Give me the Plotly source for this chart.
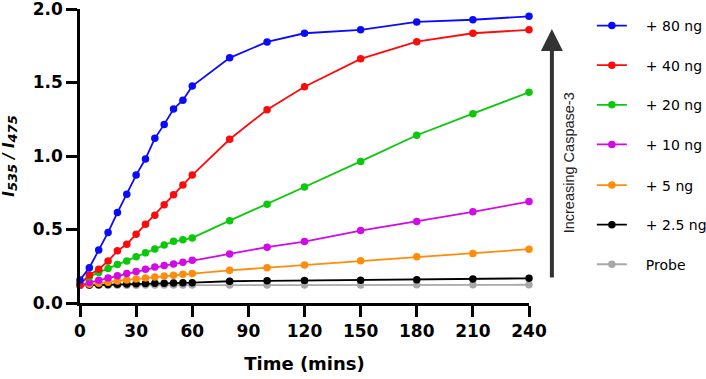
import plotly.graph_objects as go

time_min = [0, 5, 10, 15, 20, 25, 30, 35, 40, 45, 50, 55, 60, 80, 100, 120, 150, 180, 210, 240]

series_names = ["+ 80 ng", "+ 40 ng", "+ 20 ng", "+ 10 ng", "+ 5 ng", "+ 2.5 ng", "Probe"]

ng80 = [0.156, 0.24, 0.36, 0.48, 0.615, 0.74, 0.87, 0.98, 1.12, 1.215, 1.32, 1.38, 1.476,
        1.668, 1.776, 1.835, 1.858, 1.912, 1.927, 1.95]
ng40 = [0.127, 0.19, 0.23, 0.285, 0.355, 0.40, 0.468, 0.536, 0.597, 0.669, 0.737, 0.802, 0.87,
        1.114, 1.315, 1.471, 1.661, 1.778, 1.835, 1.858]
ng20 = [0.135, 0.178, 0.208, 0.235, 0.262, 0.285, 0.314, 0.341, 0.368, 0.395, 0.42, 0.43, 0.443,
        0.56, 0.672, 0.789, 0.963, 1.141, 1.288, 1.433]
ng10 = [0.12, 0.14, 0.155, 0.17, 0.185, 0.2, 0.215, 0.23, 0.245, 0.255, 0.265, 0.277, 0.29,
        0.334, 0.38, 0.418, 0.493, 0.554, 0.62, 0.69]
ng5 = [0.12, 0.128, 0.135, 0.142, 0.15, 0.157, 0.163, 0.17, 0.177, 0.183, 0.189, 0.195, 0.2,
       0.222, 0.24, 0.258, 0.287, 0.314, 0.337, 0.366]
ng2_5 = [0.12, 0.122, 0.124, 0.126, 0.128, 0.13, 0.131, 0.132, 0.134, 0.135, 0.136, 0.137, 0.138,
         0.148, 0.151, 0.153, 0.155, 0.158, 0.164, 0.168]
probe = [0.12, 0.12, 0.12, 0.121, 0.121, 0.121, 0.121, 0.122, 0.122, 0.122, 0.122, 0.122, 0.122,
         0.123, 0.123, 0.123, 0.123, 0.124, 0.124, 0.124]

y_ticks = [0.0, 0.5, 1.0, 1.5, 2.0]
x_ticks = [0, 30, 60, 90, 120, 150, 180, 210, 240]

colors = ["#0a0aff", "#ff0a0a", "#0ac80a", "#d20ae6", "#ff8c0a", "#000000", "#a8a8a8"]
all_series = [ng80, ng40, ng20, ng10, ng5, ng2_5, probe]

ARIAL = "Arial, Liberation Sans, sans-serif"
WIDE = "DejaVu Sans, sans-serif"

SUB = "<sub><span style='font-size:13px'>{}</span></sub>"
y_title = "<b><i>I" + SUB.format("535") + " / I" + SUB.format("475") + "</i></b>"

fig = go.Figure()
for i in reversed(range(len(all_series))):
    fig.add_trace(go.Scatter(
        x=time_min, y=all_series[i], name="\u2003" + series_names[i],
        mode="lines+markers",
        line=dict(color=colors[i], width=1.8),
        marker=dict(color=colors[i], size=7.5),
        legendrank=i + 1, legendgroup=series_names[i],
        legend="legend" if i < 4 else "legend2",
        cliponaxis=False,
    ))

legend_style = dict(xanchor="left", yanchor="top",
                    font=dict(size=14, family=WIDE), tracegroupgap=18.4,
                    bgcolor="rgba(0,0,0,0)", itemwidth=30)

fig.update_layout(
    width=706, height=379,
    margin=dict(l=80, r=177, t=9, b=76, autoexpand=False),
    plot_bgcolor="white", paper_bgcolor="white",
    font=dict(family=ARIAL, color="black"),
    showlegend=True,
    legend=dict(x=1.140, y=0.9966, **legend_style),
    legend2=dict(x=1.140, y=0.4542, **legend_style),
    xaxis=dict(range=[0, 240], tickvals=x_ticks, showgrid=False, zeroline=False,
               showline=True, linecolor="black", linewidth=2.5,
               ticks="outside", ticklen=11, tickwidth=2.5, tickcolor="black",
               tickfont=dict(size=17, family=WIDE, weight="bold"),
               title=dict(text="<b>Time (mins)</b>", font=dict(size=18, family=WIDE), standoff=18)),
    yaxis=dict(range=[0, 2.0], tickvals=y_ticks, tickformat=".1f", showgrid=False, zeroline=False,
               showline=True, linecolor="black", linewidth=2.5,
               ticks="outside", ticklen=11, tickwidth=2.5, tickcolor="black",
               ticklabeloverflow="allow",
               tickfont=dict(size=17, family=WIDE, weight="bold"),
               title=dict(text=y_title, font=dict(size=15, family=WIDE), standoff=16)),
)

fig.add_annotation(xref="paper", yref="paper", x=1.051, y=0.932,
                   ax=0, ay=250, axref="pixel", ayref="pixel",
                   showarrow=True, arrowhead=2, arrowsize=1.1, arrowwidth=4,
                   arrowcolor="#333333", text="")
fig.add_annotation(xref="paper", yref="paper", x=1.091, y=0.478,
                   xanchor="center", yanchor="middle",
                   text="Increasing Caspase-3", textangle=-90, showarrow=False,
                   font=dict(size=14.5, family=ARIAL, color="#222222"))

fig.write_html("out.html", post_script="document.body.style.margin='0px';",
               config={"displayModeBar": False})
